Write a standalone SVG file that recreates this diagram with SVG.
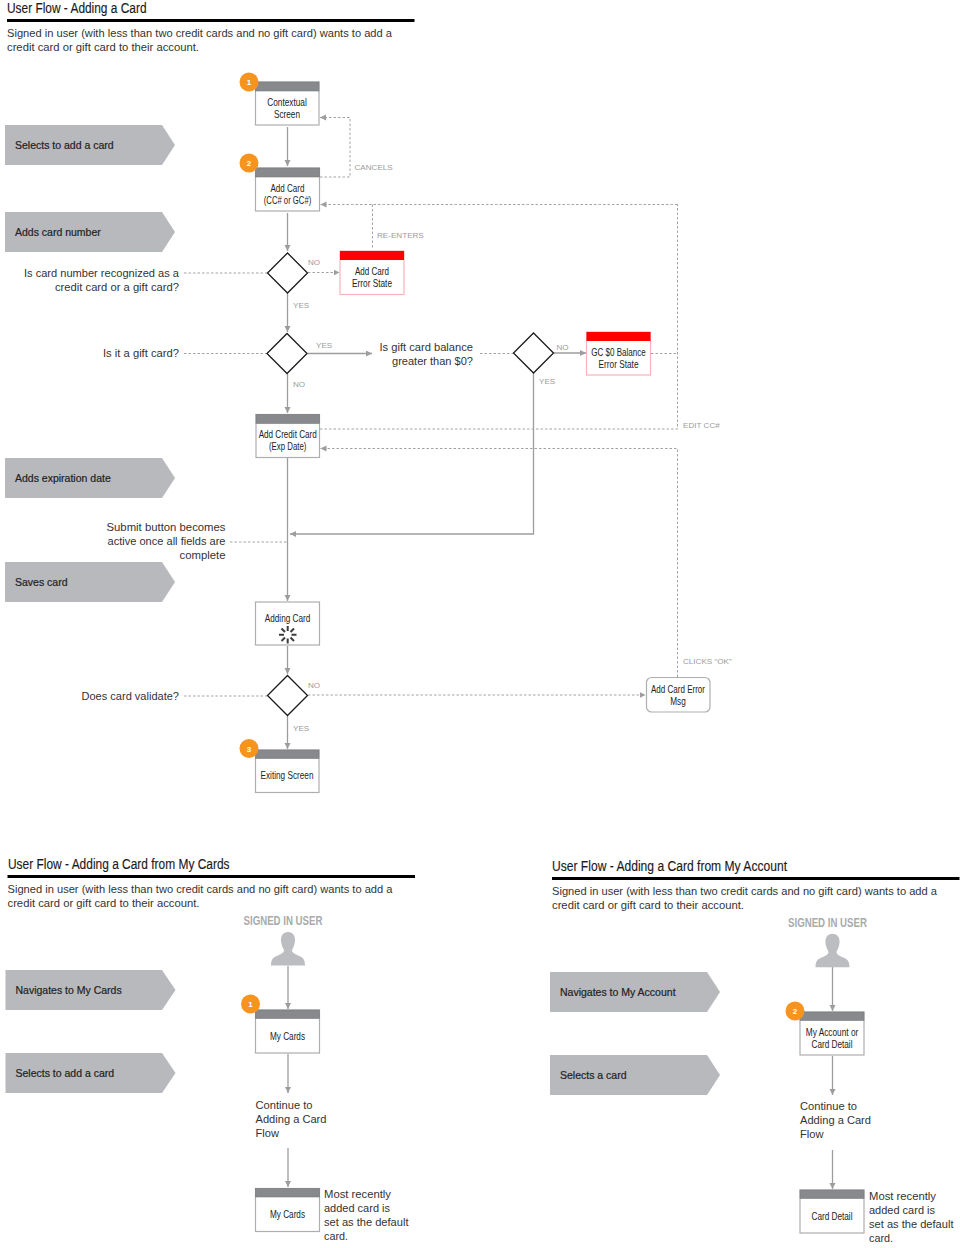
<svg xmlns="http://www.w3.org/2000/svg" width="960" height="1248" viewBox="0 0 960 1248">
<style>
text{font-family:"Liberation Sans",Arial,sans-serif;fill:#222}
.t{font-size:15.5px;fill:#1a1a1a;stroke:#1a1a1a;stroke-width:.15}
.b{font-size:11.5px;fill:#333}
.n{font-size:11px;text-anchor:middle;fill:#222}
.c{font-size:10.5px;fill:#222;stroke:#222;stroke-width:.2}
.l{font-size:8.1px;fill:#9b9b9b}
.q{font-size:11.5px;text-anchor:end;fill:#333}
.u{font-size:12.5px;font-weight:bold;fill:#a8aaad}
.num{font-size:8px;font-weight:bold;fill:#fff;text-anchor:middle}
.box{fill:#fff;stroke:#adaeb0;stroke-width:1.2}
.err{fill:#fff;stroke:#f7b3ba;stroke-width:1.2}
.hd{fill:#88898d;stroke:#77787b;stroke-width:.6}
.rd{fill:#fe0000}
.dia{fill:#fff;stroke:#1a1a1a;stroke-width:1.3}
.chev{fill:#b8b9bc}
.badge{fill:#f7941e}
.rule{fill:#000}
.s{fill:none;stroke:#9d9d9f;stroke-width:1.3}
.d{fill:none;stroke:#a2a2a4;stroke-width:1;stroke-dasharray:2.5 2}
.a{marker-end:url(#ah)}
.person{fill:#bcbdc0}
.spin{stroke:#3c3c3e;stroke-width:2;stroke-linecap:butt}
</style>
<defs>
<marker id="ah" markerUnits="userSpaceOnUse" markerWidth="7" markerHeight="7" refX="6" refY="3" orient="auto"><path d="M0 0L6 3L0 6Z" fill="#9d9d9f"/></marker>
</defs>
<rect width="960" height="1248" fill="#fff"/>

<g id="heading-1">
<text class="t" x="7" y="12.500" textLength="139.500" lengthAdjust="spacingAndGlyphs">User Flow - Adding a Card</text>
<rect class="rule" x="7" y="19" width="407.500" height="3"/>
<text class="b" x="7" y="37" textLength="385" lengthAdjust="spacingAndGlyphs">Signed in user (with less than two credit cards and no gift card) wants to add a</text>
<text class="b" x="7" y="51" textLength="192" lengthAdjust="spacingAndGlyphs">credit card or gift card to their account.</text>
</g>
<g id="heading-2">
<text class="t" x="8" y="868.500" textLength="221.500" lengthAdjust="spacingAndGlyphs">User Flow - Adding a Card from My Cards</text>
<rect class="rule" x="7.500" y="875" width="407.500" height="3"/>
<text class="b" x="7.500" y="893" textLength="385" lengthAdjust="spacingAndGlyphs">Signed in user (with less than two credit cards and no gift card) wants to add a</text>
<text class="b" x="7.500" y="907" textLength="192" lengthAdjust="spacingAndGlyphs">credit card or gift card to their account.</text>
</g>
<g id="heading-3">
<text class="t" x="552" y="870.500" textLength="235" lengthAdjust="spacingAndGlyphs">User Flow - Adding a Card from My Account</text>
<rect class="rule" x="552" y="877" width="407.500" height="3"/>
<text class="b" x="552" y="895" textLength="385" lengthAdjust="spacingAndGlyphs">Signed in user (with less than two credit cards and no gift card) wants to add a</text>
<text class="b" x="552" y="909" textLength="192" lengthAdjust="spacingAndGlyphs">credit card or gift card to their account.</text>
</g>

<g id="connectors">
<path class="s a" d="M287.500 127V166"/>
<path class="s a" d="M287.500 213V251"/>
<path class="s a" d="M287.500 293V332"/>
<path class="s a" d="M287.500 374V413"/>
<path class="s a" d="M287.500 458V601"/>
<path class="s a" d="M287.500 646V674"/>
<path class="s a" d="M287.500 716V749"/>
<path class="s a" d="M307.500 353.500H372"/>
<path class="s a" d="M553.500 353H586"/>
<path class="s a" d="M533.500 373V534H290"/>
<path class="d a" d="M320 177H350V117.500H320"/>
<path class="d a" d="M677.500 204.500H320.500"/>
<path class="d" d="M320 429H677.500V204.500"/>
<path class="d" d="M372.500 204.500V248"/>
<path class="d" d="M651 353.500H677.500"/>
<path class="d a" d="M308 272.500H339.500"/>
<path class="d" d="M184 273H267"/>
<path class="d" d="M184 353.500H267"/>
<path class="d" d="M480 353.500H513"/>
<path class="d" d="M230 542H287"/>
<path class="d" d="M184 696H267"/>
<path class="d a" d="M308 695H645.500"/>
<path class="d a" d="M677.500 677V448.500H320.500"/>
<path class="s a" d="M288 966V1009"/>
<path class="s a" d="M288 1054V1093"/>
<path class="s a" d="M288 1148V1187"/>
<path class="s a" d="M832.500 967V1011"/>
<path class="s a" d="M832.500 1056V1095"/>
<path class="s a" d="M832.500 1150V1189"/>
</g>

<g id="step-selects-add"><path class="chev" d="M5 125H162L175 145L162 165H5Z"/><text class="c" x="15" y="149">Selects to add a card</text></g>
<g id="step-adds-number"><path class="chev" d="M5 212H162L175 232L162 252H5Z"/><text class="c" x="15" y="236">Adds card number</text></g>
<g id="step-adds-exp"><path class="chev" d="M5 458H162L175 478L162 498H5Z"/><text class="c" x="15" y="482">Adds expiration date</text></g>
<g id="step-saves"><path class="chev" d="M5 562H162L175 582L162 602H5Z"/><text class="c" x="15" y="586">Saves card</text></g>
<g id="step-nav-cards"><path class="chev" d="M5.500 970H162L175.500 990L162 1010H5.500Z"/><text class="c" x="15.500" y="994">Navigates to My Cards</text></g>
<g id="step-select-add2"><path class="chev" d="M5.500 1053H162L175.500 1073L162 1093H5.500Z"/><text class="c" x="15.500" y="1077">Selects to add a card</text></g>
<g id="step-nav-account"><path class="chev" d="M550 972H707L720 992L707 1012H550Z"/><text class="c" x="560" y="996">Navigates to My Account</text></g>
<g id="step-select-card"><path class="chev" d="M550 1055H707L720 1075L707 1095H550Z"/><text class="c" x="560" y="1079">Selects a card</text></g>

<g id="contextual-screen"><rect class="box" x="255.500" y="82" width="63.500" height="43"/><rect class="hd" x="255.500" y="82" width="63.500" height="9"/>
<text class="n" x="287" y="105.500" textLength="39.500" lengthAdjust="spacingAndGlyphs">Contextual</text><text class="n" x="287" y="117.500" textLength="26" lengthAdjust="spacingAndGlyphs">Screen</text>
<circle class="badge" cx="249" cy="82" r="9.500"/><text class="num" x="249" y="85">1</text></g>
<g id="add-card"><rect class="box" x="255.500" y="168" width="64" height="43"/><rect class="hd" x="255.500" y="168" width="64" height="9"/>
<text class="n" x="287.500" y="191.500" textLength="34" lengthAdjust="spacingAndGlyphs">Add Card</text><text class="n" x="287.500" y="203.500" textLength="47.500" lengthAdjust="spacingAndGlyphs">(CC# or GC#)</text>
<circle class="badge" cx="249" cy="163" r="9.500"/><text class="num" x="249" y="166">2</text></g>
<g id="decision-recognized"><path class="dia" d="M287.500 253L307.500 273L287.500 293L267.500 273Z"/><text class="q" x="179" y="277" textLength="155" lengthAdjust="spacingAndGlyphs">Is card number recognized as a</text><text class="q" x="179" y="291" textLength="124" lengthAdjust="spacingAndGlyphs">credit card or a gift card?</text></g>
<g id="add-card-error"><rect class="err" x="340" y="251" width="64" height="43.500"/><rect class="rd" x="340" y="251" width="64" height="9"/>
<text class="n" x="372" y="274.500" textLength="34" lengthAdjust="spacingAndGlyphs">Add Card</text><text class="n" x="372" y="286.500" textLength="40" lengthAdjust="spacingAndGlyphs">Error State</text></g>
<g id="decision-gift"><path class="dia" d="M287 333.500L307 353.500L287 373.500L267 353.500Z"/><text class="q" x="179" y="357" textLength="76" lengthAdjust="spacingAndGlyphs">Is it a gift card?</text></g>
<g id="decision-balance"><path class="dia" d="M533.500 333L553.500 353L533.500 373L513.500 353Z"/><text class="q" x="473" y="351" textLength="93.500" lengthAdjust="spacingAndGlyphs">Is gift card balance</text><text class="q" x="473" y="365" textLength="81" lengthAdjust="spacingAndGlyphs">greater than $0?</text></g>
<g id="gc-error"><rect class="err" x="586.500" y="332" width="64" height="43"/><rect class="rd" x="586.500" y="332" width="64" height="9"/>
<text class="n" x="618.500" y="355.500" textLength="54.500" lengthAdjust="spacingAndGlyphs">GC $0 Balance</text><text class="n" x="618.500" y="367.500" textLength="40" lengthAdjust="spacingAndGlyphs">Error State</text></g>
<g id="add-credit-card"><rect class="box" x="256" y="414.500" width="63.500" height="43"/><rect class="hd" x="256" y="414.500" width="63.500" height="9"/>
<text class="n" x="287.700" y="438" textLength="58" lengthAdjust="spacingAndGlyphs">Add Credit Card</text><text class="n" x="287.700" y="450" textLength="37.500" lengthAdjust="spacingAndGlyphs">(Exp Date)</text></g>
<g id="note-submit"><text class="q" x="225.500" y="530.500" textLength="119" lengthAdjust="spacingAndGlyphs">Submit button becomes</text><text class="q" x="225.500" y="544.500" textLength="118" lengthAdjust="spacingAndGlyphs">active once all fields are</text><text class="q" x="225.500" y="558.500" textLength="46" lengthAdjust="spacingAndGlyphs">complete</text></g>
<g id="adding-card"><rect class="box" x="255.500" y="602" width="64" height="43"/>
<text class="n" x="287.500" y="621.500" textLength="45.500" lengthAdjust="spacingAndGlyphs">Adding Card</text>
<g class="spin"><path d="M287.700 626V631M287.700 638.500V643.500M279 634.700H284M291.500 634.700H296.500M281.500 628.500L285 632M290.500 637.500L294 641M281.500 641L285 637.500M290.500 632L294 628.500" fill="none"/></g></g>
<g id="decision-validate"><path class="dia" d="M287.500 675.500L307.500 695.500L287.500 715.500L267.500 695.500Z"/><text class="q" x="179" y="700" textLength="97.500" lengthAdjust="spacingAndGlyphs">Does card validate?</text></g>
<g id="exiting-screen"><rect class="box" x="255.500" y="750" width="63.500" height="42.500"/><rect class="hd" x="255.500" y="750" width="63.500" height="8.500"/>
<text class="n" x="287" y="779" textLength="53" lengthAdjust="spacingAndGlyphs">Exiting Screen</text>
<circle class="badge" cx="249" cy="748.500" r="9.500"/><text class="num" x="249" y="751.500">3</text></g>
<g id="add-card-error-msg"><rect class="box" x="646.500" y="677.500" width="63.500" height="34.500" rx="5"/>
<text class="n" x="678" y="692.500" textLength="54" lengthAdjust="spacingAndGlyphs">Add Card Error</text><text class="n" x="678" y="704.500" textLength="15.500" lengthAdjust="spacingAndGlyphs">Msg</text></g>

<g id="labels">
<text class="l" x="354.500" y="170">CANCELS</text>
<text class="l" x="377" y="238">RE-ENTERS</text>
<text class="l" x="308" y="265">NO</text>
<text class="l" x="293" y="308">YES</text>
<text class="l" x="316" y="348">YES</text>
<text class="l" x="293" y="387">NO</text>
<text class="l" x="556.500" y="350">NO</text>
<text class="l" x="539" y="384">YES</text>
<text class="l" x="683" y="428">EDIT CC#</text>
<text class="l" x="683" y="664">CLICKS “OK”</text>
<text class="l" x="308" y="688">NO</text>
<text class="l" x="293" y="731">YES</text>
</g>

<g id="user-1"><text class="u" x="243.500" y="924.500" textLength="79" lengthAdjust="spacingAndGlyphs">SIGNED IN USER</text>
<path class="person" d="M288 932C293 932 295.500 936 295 941C294.800 945 293 948 292 950C292 952 293 953 297 955C302 957 305 958 305 965.500H271C271 958 274 957 279 955C283 953 284 952 284 950C283 948 281.200 945 281 941C280.500 936 283 932 288 932Z"/></g>
<g id="my-cards-1"><rect class="box" x="255.500" y="1010" width="64" height="43"/><rect class="hd" x="255.500" y="1010" width="64" height="8.500"/>
<text class="n" x="287.500" y="1039.500" textLength="35" lengthAdjust="spacingAndGlyphs">My Cards</text>
<circle class="badge" cx="250.500" cy="1004" r="9.500"/><text class="num" x="250.500" y="1007">1</text></g>
<g id="continue-1"><text class="b" x="255.500" y="1108.500" textLength="57" lengthAdjust="spacingAndGlyphs">Continue to</text><text class="b" x="255.500" y="1122.500" textLength="71" lengthAdjust="spacingAndGlyphs">Adding a Card</text><text class="b" x="255.500" y="1136.500" textLength="23.500" lengthAdjust="spacingAndGlyphs">Flow</text></g>
<g id="my-cards-2"><rect class="box" x="255.500" y="1188.500" width="64" height="43"/><rect class="hd" x="255.500" y="1188.500" width="64" height="8.500"/>
<text class="n" x="287.500" y="1217.500" textLength="35" lengthAdjust="spacingAndGlyphs">My Cards</text></g>
<g id="note-default-1"><text class="b" x="324" y="1197.500" textLength="67" lengthAdjust="spacingAndGlyphs">Most recently</text><text class="b" x="324" y="1211.500" textLength="66" lengthAdjust="spacingAndGlyphs">added card is</text><text class="b" x="324" y="1225.500" textLength="84.500" lengthAdjust="spacingAndGlyphs">set as the default</text><text class="b" x="324" y="1239.500" textLength="24" lengthAdjust="spacingAndGlyphs">card.</text></g>

<g id="user-2"><text class="u" x="788" y="926.500" textLength="79" lengthAdjust="spacingAndGlyphs">SIGNED IN USER</text>
<path class="person" transform="translate(544.500 1.700)" d="M288 932C293 932 295.500 936 295 941C294.800 945 293 948 292 950C292 952 293 953 297 955C302 957 305 958 305 965.500H271C271 958 274 957 279 955C283 953 284 952 284 950C283 948 281.200 945 281 941C280.500 936 283 932 288 932Z"/></g>
<g id="my-account"><rect class="box" x="800" y="1012" width="64" height="43"/><rect class="hd" x="800" y="1012" width="64" height="8.500"/>
<text class="n" x="832" y="1035.500" textLength="52.500" lengthAdjust="spacingAndGlyphs">My Account or</text><text class="n" x="832" y="1047.500" textLength="41" lengthAdjust="spacingAndGlyphs">Card Detail</text>
<circle class="badge" cx="795" cy="1011" r="9.500"/><text class="num" x="795" y="1014">2</text></g>
<g id="continue-2"><text class="b" x="800" y="1110" textLength="57" lengthAdjust="spacingAndGlyphs">Continue to</text><text class="b" x="800" y="1124" textLength="71" lengthAdjust="spacingAndGlyphs">Adding a Card</text><text class="b" x="800" y="1138" textLength="23.500" lengthAdjust="spacingAndGlyphs">Flow</text></g>
<g id="card-detail"><rect class="box" x="800" y="1190" width="64" height="43"/><rect class="hd" x="800" y="1190" width="64" height="8.500"/>
<text class="n" x="832" y="1219.500" textLength="41" lengthAdjust="spacingAndGlyphs">Card Detail</text></g>
<g id="note-default-2"><text class="b" x="869" y="1199.500" textLength="67" lengthAdjust="spacingAndGlyphs">Most recently</text><text class="b" x="869" y="1213.500" textLength="66" lengthAdjust="spacingAndGlyphs">added card is</text><text class="b" x="869" y="1227.500" textLength="84.500" lengthAdjust="spacingAndGlyphs">set as the default</text><text class="b" x="869" y="1241.500" textLength="24" lengthAdjust="spacingAndGlyphs">card.</text></g>
</svg>
